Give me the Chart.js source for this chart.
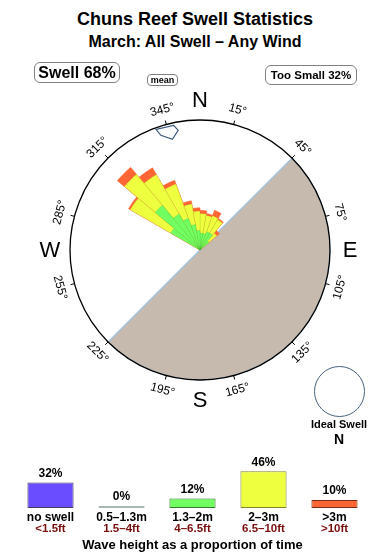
<!DOCTYPE html>
<html lang="en">
<head>
<meta charset="UTF-8">
<title>Chuns Reef Swell Statistics</title>
<script src="https://cdn.jsdelivr.net/npm/chart.js"></script>
<style>
    body, html { margin: 0; padding: 0; background: #fff; }
    body {
        width: 390px; height: 560px; position: relative; overflow: hidden;
        font-family: "Liberation Sans", Arial, sans-serif; color: #000;
    }
    .title { position: absolute; left: 0; width: 390px; text-align: center; font-weight: bold; white-space: nowrap; }
    .t1 { top: 10px; font-size: 18px; line-height: 18px; }
    .t2 { top: 34px; font-size: 16px; line-height: 16px; }
    .box {
        position: absolute; box-sizing: border-box; border: 1px solid #808080; border-radius: 6px;
        background: #fff; font-weight: bold; text-align: center; white-space: nowrap;
    }
    #rose { position: absolute; left: 0; top: 0; }
    #bars { position: absolute; left: 0; top: 430px; }
    .ideal {
        position: absolute; left: 314px; top: 366px; width: 51px; height: 51px;
        box-sizing: border-box; border: 1px solid #44607e; border-radius: 50%;
    }
    .ideal-txt { position: absolute; left: 299px; width: 80px; text-align: center; font-weight: bold; }
</style>
</head>
<body>

<div class="title t1">Chuns Reef Swell Statistics</div>
<div class="title t2">March: All Swell &ndash; Any Wind</div>

<canvas id="rose" width="390" height="430"></canvas>
<canvas id="bars" width="390" height="130"></canvas>

<div class="box" style="left:34px; top:62px; width:86px; height:21px; font-size:16px; line-height:19px;">Swell 68%</div>
<div class="box" style="left:147px; top:74px; width:31px; height:12px; font-size:9px; line-height:10px; border-radius:4px;">mean</div>
<div class="box" style="left:265px; top:65px; width:92px; height:20px; font-size:11.5px; line-height:18px;">Too Small 32%</div>

<div class="ideal"></div>
<div class="ideal-txt" style="top:418px; font-size:11px;">Ideal Swell</div>
<div class="ideal-txt" style="top:431px; font-size:14px;">N</div>

<script>
// swell direction bins (start bearing, 10 deg wide) and share per height band
const binStarts = [300, 310, 320, 330, 340, 350, 0, 10, 20, 30, 40];
const green  = [26, 45, 32, 26, 20, 15, 13, 13, 15, 15, 9];      // 1.3-2m
const yellow = [36, 31, 35, 28, 16, 15, 15, 14, 13, 12, 8];      // 2-3m
const orange = [1.5, 7, 6, 3, 2.5, 2.5, 2.5, 1.5, 4.5, 1, 2.5]; // >3m

// land sector (no swell can arrive from there)
const landFrom = 45;
const landTo = 225;

const meanDir = 344;
const tickBearings = [15, 45, 75, 105, 135, 165, 195, 225, 255, 285, 315, 345];
const compassLetters = ['N', 'E', 'S', 'W'];
const compassBearings = [0, 90, 180, 270];

// bottom summary
const heightCats = ['no swell', '0.5\u20131.3m', '1.3\u20132m', '2\u20133m', '>3m'];
const feetCats = ['<1.5ft', '1.5\u20134ft', '4\u20136.5ft', '6.5\u201310ft', '>10ft'];
const heightShare = [32, 0, 12, 46, 10];

const FONT = '"Liberation Sans", Arial, sans-serif';
Chart.defaults.font.family = FONT;

var dirLabels = [];
for (var d = 0; d < 360; d += 10) dirLabels.push(d + '°');

function byBin(values) {
    var out = dirLabels.map(function () { return 0; });
    binStarts.forEach(function (b, i) { out[b / 10] = values[i]; });
    return out;
}
function addUp(a, b) { return a.map(function (v, i) { return v + b[i]; }); }

var greenTop = byBin(green);
var yellowTop = addUp(greenTop, byBin(yellow));
var orangeTop = addUp(yellowTop, byBin(orange));

var landData = [0, 100, 0];
var landAngles = [landFrom, landTo - landFrom, 360 - landTo];

function rad(deg) { return deg * Math.PI / 180; }

var roseDecor = {
    id: 'roseDecor',
    afterDraw: function (chart) {
        var s = chart.scales.r;
        var ctx = chart.ctx;
        var cx = s.xCenter, cy = s.yCenter, R = s.drawingArea;
        // point at bearing deg, distance dist, shifted sideways (clockwise) by side
        function pt(deg, dist, side) {
            var a = rad(deg);
            side = side || 0;
            return [cx + dist * Math.sin(a) + side * Math.cos(a), cy - dist * Math.cos(a) + side * Math.sin(a)];
        }
        ctx.save();
        ctx.strokeStyle = '#000';
        ctx.lineWidth = 1;
        tickBearings.forEach(function (b) {
            var p1 = pt(b, R), p2 = pt(b, R + 4);
            ctx.beginPath(); ctx.moveTo(p1[0], p1[1]); ctx.lineTo(p2[0], p2[1]); ctx.stroke();
        });

        ctx.fillStyle = '#000';
        ctx.textAlign = 'center';
        ctx.textBaseline = 'middle';
        ctx.font = '12px ' + FONT;
        tickBearings.forEach(function (b) {
            var p = pt(b, R + 15);
            var rot = (b > 90 && b < 270) ? b - 180 : b;
            ctx.save();
            ctx.translate(p[0], p[1]);
            ctx.rotate(rad(rot));
            ctx.fillText(b + '°', 0, 0);
            ctx.restore();
        });

        ctx.font = '22px ' + FONT;
        compassLetters.forEach(function (l, i) {
            var p = pt(compassBearings[i], R + 20);
            ctx.fillText(l, p[0], p[1] + 1);
        });

        // mean direction marker
        var shape = [[-2, -9], [-9, -6], [-16, 4], [-9, 12], [-3, 9]];
        ctx.beginPath();
        shape.forEach(function (q, i) {
            var p = pt(meanDir, R + q[0], q[1]);
            if (i === 0) ctx.moveTo(p[0], p[1]); else ctx.lineTo(p[0], p[1]);
        });
        ctx.closePath();
        ctx.fillStyle = '#fff';
        ctx.fill();
        ctx.strokeStyle = '#3d5a80';
        ctx.lineWidth = 1.2;
        ctx.stroke();
        ctx.restore();
    }
};

new Chart(document.getElementById('rose'), {
    type: 'polarArea',
    data: {
        labels: dirLabels,
        datasets: [
            { data: greenTop, backgroundColor: '#72ff62', borderColor: 'rgba(40,150,40,0.35)', borderWidth: 0.5, angle: 10 },
            { data: yellowTop, backgroundColor: '#eeff40', borderColor: 'rgba(150,150,20,0.4)', borderWidth: 0.5, angle: 10 },
            { data: orangeTop, backgroundColor: '#ff6633', borderColor: '#ff6633', borderWidth: 0.5, angle: 10 },
            {
                data: landData,
                backgroundColor: '#c5baad',
                borderColor: '#9ec3e6',
                borderWidth: function (c) { return landData[c.dataIndex] > 0 ? 1.2 : 0; },
                angle: function (c) { return landAngles[c.dataIndex]; }
            }
        ]
    },
    options: {
        responsive: false,
        animation: false,
        layout: { padding: { left: 70, right: 60, top: 120, bottom: 50 } },
        plugins: { legend: { display: false }, tooltip: { enabled: false } },
        scales: {
            r: {
                min: 0, max: 100, startAngle: 0,
                ticks: { display: false, stepSize: 100 },
                grid: { circular: true, color: '#000', lineWidth: 1.3, z: 1 },
                angleLines: { display: false },
                pointLabels: { display: false }
            }
        }
    },
    plugins: [roseDecor]
});

// percentages above the bars and the feet line under the metre labels
var barLabels = {
    id: 'barLabels',
    afterDraw: function (chart) {
        var ctx = chart.ctx;
        var meta = chart.getDatasetMeta(0);
        var x = chart.scales.x;
        ctx.save();
        ctx.textAlign = 'center';
        ctx.fillStyle = '#000';
        ctx.font = 'bold 12px ' + FONT;
        ctx.textBaseline = 'bottom';
        meta.data.forEach(function (bar, i) {
            ctx.fillText(heightShare[i] + '%', bar.x, bar.y - 3);
        });
        ctx.fillStyle = '#7a0c0c';
        ctx.font = 'bold 11.5px ' + FONT;
        ctx.textBaseline = 'middle';
        feetCats.forEach(function (t, i) {
            ctx.fillText(t, x.getPixelForTick(i), chart.chartArea.bottom + 21);
        });
        ctx.restore();
    }
};

new Chart(document.getElementById('bars'), {
    type: 'bar',
    data: {
        labels: heightCats,
        datasets: [{
            data: heightShare,
            backgroundColor: ['#6a4dff', '#a9b8b0', '#72ff62', '#eeff40', '#ff6633'],
            borderColor: ['#404060', '#a9b8b0', '#2f7a2c', '#85852a', '#7a2c14'],
            borderWidth: 1,
            borderSkipped: false,
            minBarLength: 2,
            barPercentage: 0.65,
            categoryPercentage: 1
        }]
    },
    options: {
        responsive: false,
        animation: false,
        layout: { padding: { left: 15, right: 20, top: 28, bottom: 8.5 } },
        plugins: { legend: { display: false }, tooltip: { enabled: false } },
        scales: {
            x: {
                grid: { display: false, drawTicks: false },
                border: { display: false },
                ticks: { color: '#000', font: { size: 12, weight: 'bold', lineHeight: 1 }, padding: 4, maxRotation: 0, autoSkip: false },
                title: {
                    display: true,
                    text: 'Wave height as a proportion of time',
                    color: '#000',
                    font: { size: 13, weight: 'bold', lineHeight: 1 },
                    padding: { top: 10.5, bottom: 0 }
                }
            },
            y: { display: false, min: 0, max: 62.5 }
        }
    },
    plugins: [barLabels]
});
</script>
</body>
</html>
